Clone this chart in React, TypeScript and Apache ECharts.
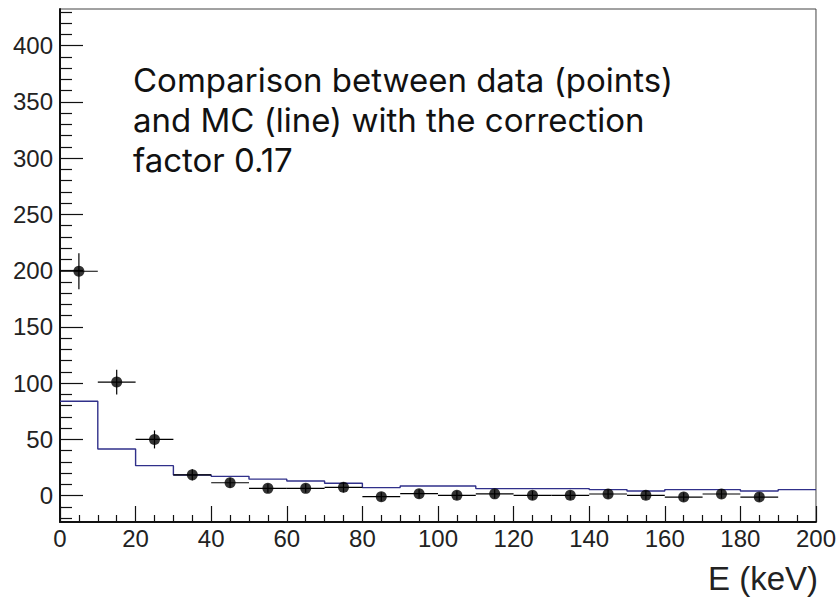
import React, { useEffect, useRef } from "react";
import * as echarts from "echarts";

// Bin centres (keV) of the measured points
const dataX = [5, 15, 25, 35, 45, 55, 65, 75, 85, 95, 105, 115, 125, 135, 145, 155, 165, 175, 185];
// Measured counts per bin
const dataY = [199.5, 101, 50, 18.5, 11.5, 6.5, 6.5, 7.4, -0.9, 1.8, 0.3, 1.6, 0.3, 0.3, 1.5, 0.3, -1.2, 1.5, -1.2];
// Vertical errors on the measured counts
const dataErr = [16, 11, 8, 5, 4.5, 4, 4, 4.5, 4, 4, 4, 4, 4, 4, 4, 4, 4, 4, 4];
// Half width of each bin (horizontal error)
const binHalf = 5;

// Simulated spectrum: left bin edges and bin contents
const mcEdges = [0, 10, 20, 30, 40, 50, 60, 70, 80, 90, 100, 110, 120, 130, 140, 150, 160, 170, 180, 190];
const mcValues = [84, 41.5, 26.7, 18.4, 17.2, 14.7, 13.1, 11, 7.2, 8.6, 8.6, 6.3, 6.3, 6.3, 5.4, 4.2, 5.4, 5.4, 4.2, 5.4];
const mcEnd = 200;

// Axis ticks and labels
const xMajor = [0, 20, 40, 60, 80, 100, 120, 140, 160, 180, 200];
const xMinor = [5, 10, 15, 25, 30, 35, 45, 50, 55, 65, 70, 75, 85, 90, 95, 105, 110, 115, 125, 130, 135, 145, 150, 155, 165, 170, 175, 185, 190, 195];
const yMajor = [0, 50, 100, 150, 200, 250, 300, 350, 400];
const yMinor = [-20, -10, 10, 20, 30, 40, 60, 70, 80, 90, 110, 120, 130, 140, 160, 170, 180, 190, 210, 220, 230, 240, 260, 270, 280, 290, 310, 320, 330, 340, 360, 370, 380, 390, 410, 420, 430];
const yMin = -23.4;
const yMax = 432.6;

const noteLines = ["Comparison between data (points)", "and MC (line) with the correction", "factor 0.17"];
const xTitle = "E (keV)";

export default function App() {
  const ref = useRef<HTMLDivElement>(null);

  useEffect(() => {
    if (!ref.current) return;
    const chart = echarts.init(ref.current, null, { renderer: "svg" });

    const labelFont = { fontFamily: "Liberation Sans, Arial, sans-serif", fontSize: 24, color: "#222" };

    const baseX = {
      type: "value" as const,
      min: 0,
      max: 200,
      position: "bottom" as const,
      splitLine: { show: false },
    };
    const baseY = {
      type: "value" as const,
      min: yMin,
      max: yMax,
      position: "left" as const,
      splitLine: { show: false },
    };

    const mcData: number[][] = mcEdges.map((e, i) => [e, mcValues[i]]);
    mcData.push([mcEnd, mcValues[mcValues.length - 1]]);

    const errData = dataX.map((x, i) => [x, dataY[i], dataErr[i]]);

    const noteGraphics = noteLines.map((line, i) => ({
      type: "text",
      x: 133,
      y: 80 + 40 * i,
      style: {
        text: line,
        fontFamily: "Inter, Open Sans, sans-serif",
        fontSize: 33,
        fill: "#111",
        verticalAlign: "middle",
        align: "left",
      },
    }));

    chart.setOption({
      animation: false,
      grid: {
        left: 60,
        top: 9,
        right: 21,
        bottom: 76,
        show: true,
        borderColor: "#444",
        borderWidth: 1,
        backgroundColor: "#fff",
      },
      xAxis: [
        {
          ...baseX,
          axisLine: { show: true, onZero: false, lineStyle: { color: "#111", width: 2 } },
          axisTick: { show: true, inside: true, length: 16, customValues: xMajor, lineStyle: { color: "#111", width: 1.2 } },
          axisLabel: { ...labelFont, margin: 4, customValues: xMajor, formatter: (v: number) => String(v) },
        },
        {
          ...baseX,
          axisLine: { show: false, onZero: false },
          axisTick: { show: true, inside: true, length: 7, customValues: xMinor, lineStyle: { color: "#111", width: 1.2 } },
          axisLabel: { show: false },
        },
      ],
      yAxis: [
        {
          ...baseY,
          axisLine: { show: true, onZero: false, lineStyle: { color: "#111", width: 2 } },
          axisTick: { show: true, inside: true, length: 23, customValues: yMajor, lineStyle: { color: "#111", width: 1.2 } },
          axisLabel: { ...labelFont, margin: 7, customValues: yMajor, formatter: (v: number) => String(v) },
        },
        {
          ...baseY,
          axisLine: { show: false, onZero: false },
          axisTick: { show: true, inside: true, length: 12, customValues: yMinor, lineStyle: { color: "#111", width: 1.2 } },
          axisLabel: { show: false },
        },
      ],
      series: [
        {
          type: "line",
          name: "MC",
          step: "end",
          data: mcData,
          symbol: "none",
          lineStyle: { color: "#30308a", width: 1.4 },
          clip: true,
          z: 2,
        },
        {
          type: "custom",
          name: "errors",
          data: errData,
          renderItem: (_params: any, api: any) => {
            const x = api.value(0);
            const y = api.value(1);
            const e = api.value(2);
            const l = api.coord([x - binHalf, y]);
            const r = api.coord([x + binHalf, y]);
            const t = api.coord([x, y + e]);
            const b = api.coord([x, y - e]);
            const style = { stroke: "#000", lineWidth: 1.2 };
            return {
              type: "group",
              children: [
                { type: "line", shape: { x1: l[0], y1: l[1], x2: r[0], y2: r[1] }, style },
                { type: "line", shape: { x1: t[0], y1: t[1], x2: b[0], y2: b[1] }, style },
              ],
            };
          },
          z: 3,
        },
        {
          type: "scatter",
          name: "data",
          data: dataX.map((x, i) => [x, dataY[i]]),
          symbol: "circle",
          symbolSize: 11,
          itemStyle: { color: "#000" },
          z: 4,
        },
      ],
      graphic: [
        ...noteGraphics,
        {
          type: "text",
          right: 21,
          top: 562,
          style: {
            text: xTitle,
            fontFamily: "Liberation Sans, Arial, sans-serif",
            fontSize: 33,
            fill: "#222",
          },
        },
      ],
    });

    return () => chart.dispose();
  }, []);

  return <div ref={ref} style={{ width: 839, height: 598, position: "absolute", left: 0, top: 0 }} />;
}
